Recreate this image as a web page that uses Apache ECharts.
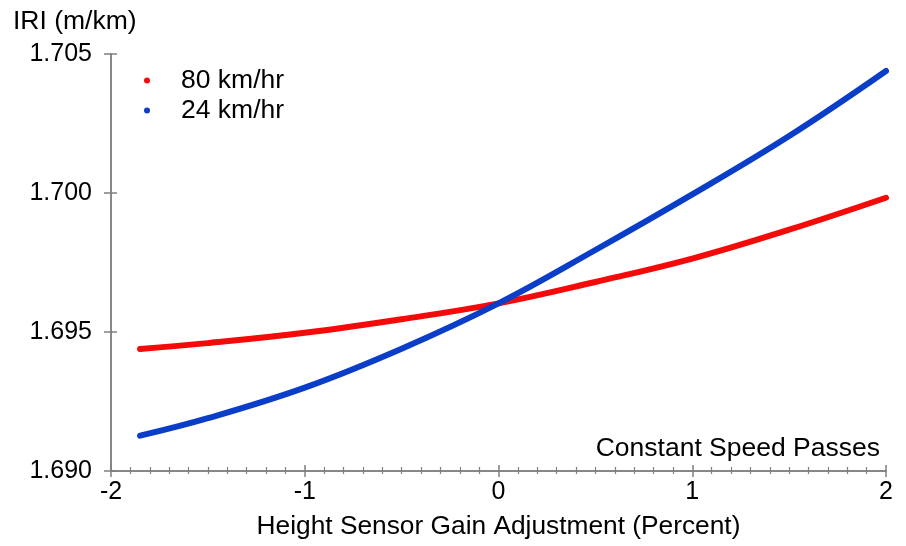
<!DOCTYPE html>
<html>
<head>
<meta charset="utf-8">
<script src="https://cdn.jsdelivr.net/npm/echarts@6/dist/echarts.min.js"></script>
<style>
html,body{margin:0;padding:0;background:#fff;}
#chart{width:906px;height:546px;}
</style>
</head>
<body>
<div id="chart"></div>
<script>
// Data
var gainPercent = [-1.85, -1.5, -1.0, -0.5, 0, 0.5, 1.0, 1.5, 2.0];
var iri80 = [1.69439, 1.69460, 1.69497, 1.69546, 1.69603, 1.69680, 1.69764, 1.69868, 1.69983];
var iri24 = [1.69127, 1.69190, 1.69300, 1.69440, 1.69603, 1.69795, 1.69995, 1.70205, 1.70439];
var seriesNames = ['80 km/hr', '24 km/hr'];
var yTitle = 'IRI (m/km)';
var xTitle = 'Height Sensor Gain Adjustment (Percent)';
var note = 'Constant Speed Passes';

function pairs(xs, ys) { return xs.map(function (x, i) { return [x, ys[i]]; }); }

var FONT = 'Liberation Sans, Arial, sans-serif';
var AXIS_COLOR = '#808080';

var chart = echarts.init(document.getElementById('chart'), null, { renderer: 'canvas' });

var xBase = {
  type: 'value', min: -2, max: 2, interval: 1, position: 'bottom',
  splitLine: { show: false },
  axisLine: { show: true, onZero: false, lineStyle: { color: AXIS_COLOR, width: 1.5 } }
};
var yBase = {
  type: 'value', min: 1.690, max: 1.705, interval: 0.005, position: 'left',
  splitLine: { show: false },
  axisLine: { show: true, onZero: false, lineStyle: { color: AXIS_COLOR, width: 1.5 } }
};

var option = {
  backgroundColor: '#ffffff',
  animation: false,
  title: {
    text: yTitle, left: 8, top: 3,
    textStyle: { fontFamily: FONT, fontSize: 26.5, fontWeight: 'normal', color: '#000' }
  },
  legend: {
    orient: 'vertical', left: 139, top: 62,
    icon: 'circle', itemWidth: 6, itemHeight: 6, itemGap: 3,
    textStyle: { fontFamily: FONT, fontSize: 26.5, color: '#000', padding: [0, 0, 0, 26], lineHeight: 23 },
    data: seriesNames
  },
  grid: { left: 111, right: 20, top: 54, bottom: 75, containLabel: false },
  xAxis: [
    Object.assign({}, xBase, {
      name: xTitle, nameLocation: 'middle', nameGap: 43,
      nameTextStyle: { fontFamily: FONT, fontSize: 26.3, color: '#000' },
      axisTick: { show: true, inside: false, length: 6, lineStyle: { color: AXIS_COLOR, width: 1.5 } },
      minorTick: { show: true, splitNumber: 10, length: 3, lineStyle: { color: AXIS_COLOR, width: 1.2 } },
      axisLabel: { show: true, margin: 9, fontFamily: FONT, fontSize: 25, color: '#000' }
    }),
    Object.assign({}, xBase, {
      axisTick: { show: true, inside: true, length: 6, lineStyle: { color: AXIS_COLOR, width: 1.5 } },
      minorTick: { show: true, splitNumber: 10, length: 4, lineStyle: { color: AXIS_COLOR, width: 1.2 } },
      axisLabel: { show: false }
    })
  ],
  yAxis: [
    Object.assign({}, yBase, {
      axisTick: { show: true, inside: false, length: 7, lineStyle: { color: AXIS_COLOR, width: 1.5 } },
      axisLabel: {
        show: true, margin: 19, fontFamily: FONT, fontSize: 25, color: '#000',
        formatter: function (v) { return v.toFixed(3); }
      }
    }),
    Object.assign({}, yBase, {
      axisTick: { show: true, inside: true, length: 6, lineStyle: { color: AXIS_COLOR, width: 1.5 } },
      axisLabel: { show: false }
    })
  ],
  graphic: [{
    type: 'text', right: 26, top: 435,
    style: { text: note, font: '26.5px ' + FONT, fill: '#000', textAlign: 'right' }
  }],
  series: [
    {
      name: seriesNames[0], type: 'line', xAxisIndex: 0, yAxisIndex: 0,
      data: pairs(gainPercent, iri80), smooth: 0.4, showSymbol: false, symbol: 'circle',
      lineStyle: { color: '#f50a0a', width: 6, cap: 'round' },
      itemStyle: { color: '#f50a0a' }
    },
    {
      name: seriesNames[1], type: 'line', xAxisIndex: 0, yAxisIndex: 0,
      data: pairs(gainPercent, iri24), smooth: 0.4, showSymbol: false, symbol: 'circle',
      lineStyle: { color: '#0b3ec8', width: 6, cap: 'round' },
      itemStyle: { color: '#0b3ec8' }
    }
  ]
};
chart.setOption(option);
</script>
</body>
</html>
